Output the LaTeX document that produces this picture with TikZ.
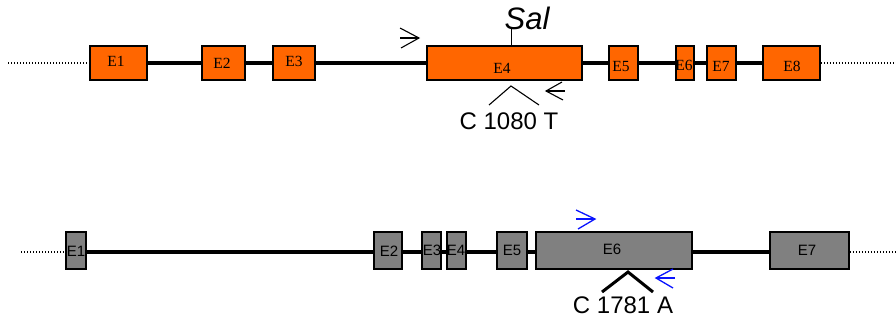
\documentclass[tikz,border=0pt]{standalone}
\usepackage{fontspec}
\setmainfont{Liberation Sans}
\newfontfamily\timesfont{Liberation Serif}
\definecolor{exorange}{HTML}{FF6600}
\definecolor{exgray}{HTML}{808080}
\definecolor{primblue}{HTML}{0A14FF}
\begin{document}
\begin{tikzpicture}[x=1pt,y=-1pt,
  exonA/.style={draw=black,line width=1.5pt,fill=exorange,inner sep=0pt,minimum height=34pt},
  exonB/.style={draw=black,line width=1.5pt,fill=exgray,inner sep=0pt,minimum height=37pt},
  intron/.style={line width=4.5pt,black},
  flank/.style={line width=1.2pt,dash pattern=on 1.2pt off 1.8pt,black},
  primer/.style={line width=1.1pt,black},
  bprimer/.style={line width=1.3pt,primblue},
  lbl/.style={inner sep=0pt,font=\fontsize{24}{26}\selectfont}
]
\useasboundingbox (0,0) rectangle (896,324);

% ---------- top gene ----------
\coordinate (tl) at (8,63);
\coordinate (tr) at (896,63);
\node[exonA,minimum width=57pt] (a1) at (118.5,63) {};
\node[exonA,minimum width=43pt] (a2) at (223.5,63) {};
\node[exonA,minimum width=42pt] (a3) at (294,63) {};
\node[exonA,minimum width=155pt] (a4) at (504.5,63) {};
\node[exonA,minimum width=29pt] (a5) at (623.5,63) {};
\node[exonA,minimum width=18pt] (a6) at (685,63) {};
\node[exonA,minimum width=29pt] (a7) at (721.5,63) {};
\node[exonA,minimum width=57pt] (a8) at (791.5,63) {};
\draw[flank] (tl) -- (a1.west);
\draw[intron] (a1.east) -- (a2.west);
\draw[intron] (a2.east) -- (a3.west);
\draw[intron] (a3.east) -- (a4.west);
\draw[intron] (a4.east) -- (a5.west);
\draw[intron] (a5.east) -- (a6.west);
\draw[intron] (a6.east) -- (a7.west);
\draw[intron] (a7.east) -- (a8.west);
\draw[flank] (a8.east) -- (tr);
% exon labels (top)
\begin{scope}[every node/.style={font=\timesfont\fontsize{15.5}{16}\selectfont,inner sep=0pt}]
\node (la1) at (116,61) {E1};
\node (la2) at (222,63) {E2};
\node (la3) at (294,61) {E3};
\node (la4) at (502,68) {E4};
\node (la5) at (621,66) {E5};
\node (la6) at (684,65) {E6};
\node (la7) at (721,66) {E7};
\node (la8) at (792,66) {E8};
\end{scope}
% Sal site
\node[inner sep=0pt,font=\itshape\fontsize{31}{33}\selectfont] (sal) at (527,18) {Sal};
\coordinate (salsite) at (511,29);
\draw[line width=1pt] (salsite) -- (salsite |- a4.north);
% primers (top)
\coordinate (pf1) at (419,38);
\draw[primer] (pf1) -- ++(-19,0);
\draw[primer] (400,28) -- (pf1) -- (401,48);
\coordinate (pr1) at (546,91);
\draw[primer] (pr1) -- ++(19,0);
\draw[primer] (562,82) -- (pr1) -- (563,100);
% mutation (top)
\coordinate (m1) at (511,86);
\draw[line width=1.1pt] (489,105) -- (m1) -- (539,105);
\node[lbl] (mut1) at (509,121.5) {C 1080 T};

% ---------- bottom gene ----------
\coordinate (bl) at (21,252);
\coordinate (br) at (896,252);
\node[exonB,minimum width=20pt] (b1) at (76,250.5) {};
\node[exonB,minimum width=28pt] (b2) at (388,250.5) {};
\node[exonB,minimum width=19pt] (b3) at (431.5,250.5) {};
\node[exonB,minimum width=19pt] (b4) at (456.5,250.5) {};
\node[exonB,minimum width=30pt] (b5) at (512,250.5) {};
\node[exonB,minimum width=156pt] (b6) at (614,250.5) {};
\node[exonB,minimum width=79pt] (b7) at (809.5,250.5) {};
\draw[flank] (bl) -- (b1.west |- bl);
\draw[intron] (b1.east |- bl) -- (b2.west |- bl);
\draw[intron] (b2.east |- bl) -- (b3.west |- bl);
\draw[intron] (b3.east |- bl) -- (b4.west |- bl);
\draw[intron] (b4.east |- bl) -- (b5.west |- bl);
\draw[intron] (b5.east |- bl) -- (b6.west |- bl);
\draw[intron] (b6.east |- bl) -- (b7.west |- bl);
\draw[flank] (b7.east |- br) -- (br);
\begin{scope}[every node/.style={font=\fontsize{15}{16}\selectfont,inner sep=0pt,text=black}]
\node (lb1) at (76,251) {E1};
\node (lb2) at (389,251) {E2};
\node (lb3) at (432,250) {E3};
\node (lb4) at (456,250) {E4};
\node (lb5) at (512,250) {E5};
\node (lb6) at (612,249) {E6};
\node (lb7) at (807,250) {E7};
\end{scope}
% primers (bottom, blue)
\coordinate (pf2) at (595,219);
\draw[bprimer] (pf2) -- ++(-19,0);
\draw[bprimer] (576,210) -- (pf2) -- (578,229);
\coordinate (pr2) at (656,278);
\draw[bprimer] (pr2) -- ++(19,0);
\draw[bprimer] (673,269) -- (pr2) -- (673,288);
% mutation (bottom)
\coordinate (m2) at (628,272);
\draw[line width=3pt] (602,292) -- (m2) -- (653,292);
\node[lbl] (mut2) at (623,305.5) {C 1781 A};
\end{tikzpicture}
\end{document}
